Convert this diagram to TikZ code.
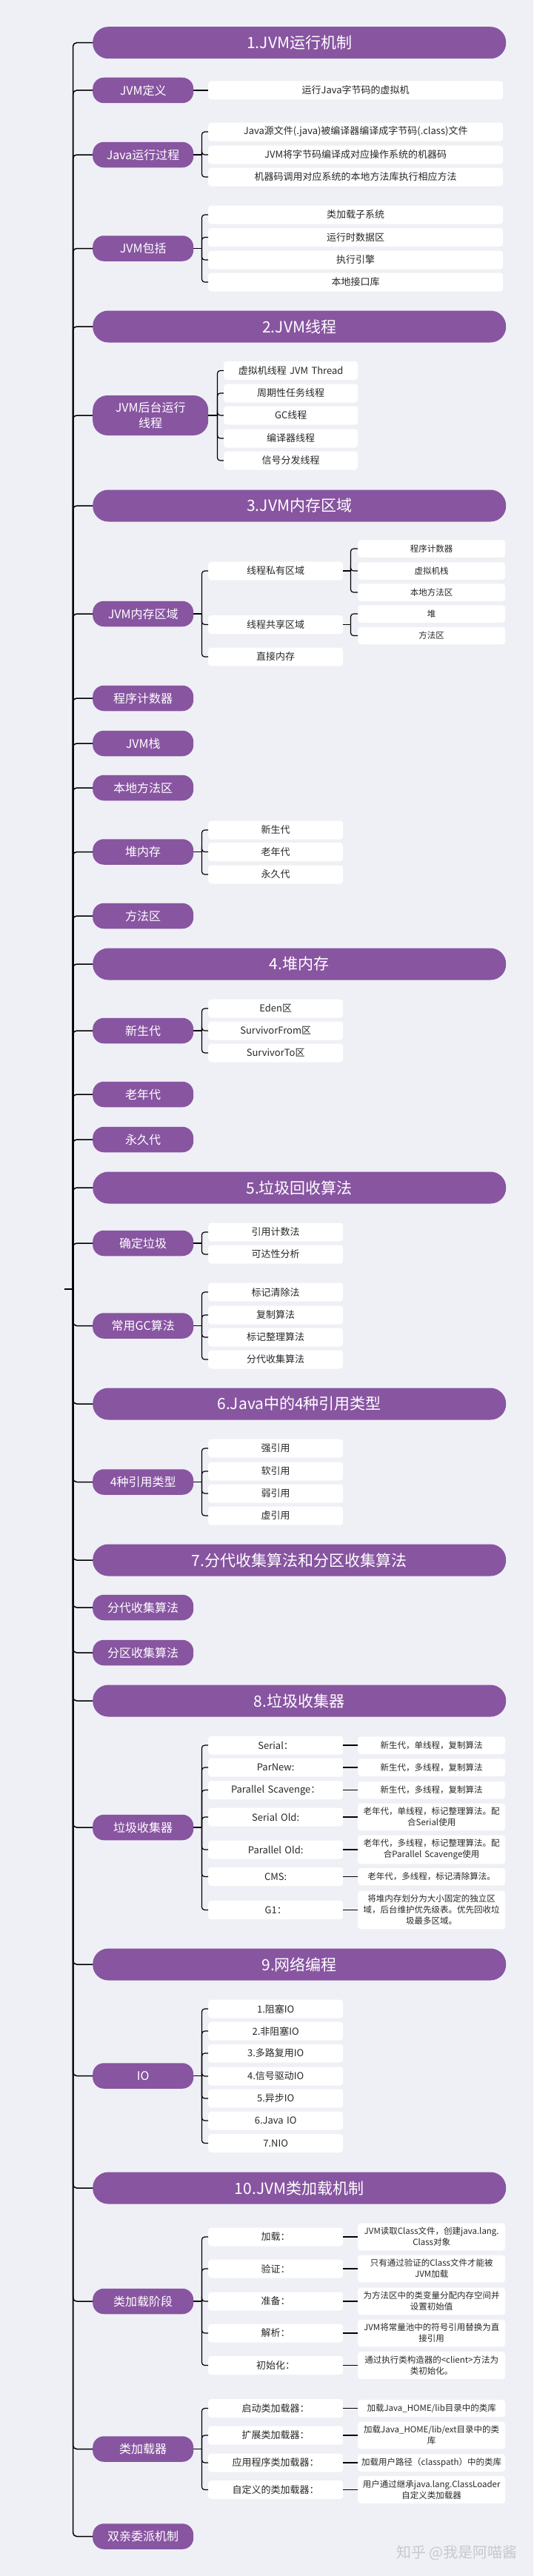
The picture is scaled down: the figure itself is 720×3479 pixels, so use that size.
\documentclass[tikz,border=0pt]{standalone}
\usepackage{fontspec}
\setmainfont{Noto Sans CJK SC}
\usetikzlibrary{positioning,calc}
\definecolor{canvas}{RGB}{238,240,245}
\definecolor{jvm}{RGB}{136,85,161}
\definecolor{ink}{RGB}{40,40,40}
\definecolor{mark}{RGB}{200,200,206}
\tikzset{
  chapter/.style={fill=jvm, text=white, rounded corners=21pt, anchor=west,
                  minimum width=558pt, minimum height=43pt, inner sep=0pt,
                  font=\fontsize{21}{25}\selectfont},
  topic/.style={fill=jvm, text=white, rounded corners=15pt, anchor=west, align=center,
                minimum width=136pt, minimum height=34.5pt, inner sep=0pt,
                font=\fontsize{16}{20}\selectfont},
  leaf/.style={fill=white, text=ink, rounded corners=4pt, anchor=west, align=center,
               text width=182pt, inner xsep=0pt, inner ysep=0pt, minimum height=25pt,
               font=\fontsize{13}{15}\selectfont},
  wideleaf/.style={leaf, text width=398pt},
  note/.style={fill=white, text=ink, rounded corners=4pt, anchor=west, align=center,
               text width=190pt, inner xsep=4.5pt, inner ysep=5.5pt, minimum height=23.5pt,
               font=\fontsize{11.5}{15}\selectfont},
  trunk/.style={line width=1.5pt, rounded corners=5pt},
  link/.style={line width=1.2pt, rounded corners=4pt},
}

\begin{document}
\begin{tikzpicture}[x=1pt, y=-1pt]
  \fill[canvas] (0,0) rectangle (720,3479);
  \useasboundingbox (0,0) rectangle (720,3479);

  %% spine
  \coordinate (root) at (98.5,1741);
  \coordinate (rootin) at (87,1741);
  \draw[trunk] (rootin) -- (root);

  %% chapters
  \foreach \n/\txt/\y in {c1/1.JVM运行机制/57.7, c2/2.JVM线程/441, c3/3.JVM内存区域/683,
      c4/4.堆内存/1302, c5/5.垃圾回收算法/1604, c6/6.Java中的4种引用类型/1896,
      c7/7.分代收集算法和分区收集算法/2107, c8/8.垃圾收集器/2297, c9/9.网络编程/2653,
      c10/10.JVM类加载机制/2955} {
    \node[chapter] (\n) at (125,\y) {\txt};
    \draw[trunk] (root) |- (\n.west);
  }

  %% topics
  \foreach \n/\txt/\y in {t1/JVM定义/122, t2/Java运行过程/209, t3/JVM包括/335.5,
      t5/JVM内存区域/829, t6/程序计数器/943, t7/JVM栈/1004, t8/本地方法区/1064,
      t9/堆内存/1150.5, t10/方法区/1237, t11/新生代/1392, t12/老年代/1478, t13/永久代/1539,
      t14/确定垃圾/1679, t15/常用GC算法/1790.5, t16/4种引用类型/2001.5,
      t17/分代收集算法/2171, t18/分区收集算法/2232, t19/垃圾收集器/2468, t20/IO/2803.5,
      t21/类加载阶段/3108, t22/类加载器/3307.5, t23/双亲委派机制/3425.5} {
    \node[topic] (\n) at (125,\y) {\txt};
    \draw[trunk] (root) |- (\n.west);
  }
  \node[topic, minimum width=156pt, minimum height=54pt, rounded corners=20pt,
        font=\fontsize{16}{21}\selectfont] (t4) at (125,561) {JVM后台运行\\线程};
  \draw[trunk] (root) |- (t4.west);

  %% 1. JVM运行机制
  \node[wideleaf] (t1c1) at (281,122) {运行Java字节码的虚拟机};
  \draw[link] (t1.east) -- (t1c1.west);

  \coordinate (t2b) at ($(t2.east)+(11,0)$);
  \draw[link] (t2.east) -- (t2b);
  \foreach \i/\txt/\y in {1/{Java源文件(.java)被编译器编译成字节码(.class)文件}/178,
      2/{JVM将字节码编译成对应操作系统的机器码}/209,
      3/{机器码调用对应系统的本地方法库执行相应方法}/239} {
    \node[wideleaf] (t2c\i) at (281,\y) {\txt};
    \draw[link] (t2b) |- (t2c\i.west);
  }

  \coordinate (t3b) at ($(t3.east)+(11,0)$);
  \draw[link] (t3.east) -- (t3b);
  \foreach \i/\txt/\y in {1/类加载子系统/290, 2/运行时数据区/320.5, 3/执行引擎/351, 4/本地接口库/381} {
    \node[wideleaf] (t3c\i) at (281,\y) {\txt};
    \draw[link] (t3b) |- (t3c\i.west);
  }

  %% 2. JVM线程
  \coordinate (t4b) at ($(t4.east)+(12,0)$);
  \draw[link] (t4.east) -- (t4b);
  \foreach \i/\txt/\y in {1/虚拟机线程 JVM Thread/500.5, 2/周期性任务线程/531, 3/GC线程/561,
      4/编译器线程/592, 5/信号分发线程/622} {
    \node[leaf, text width=181pt] (t4c\i) at (302,\y) {\txt};
    \draw[link] (t4b) |- (t4c\i.west);
  }

  %% 3. JVM内存区域
  \coordinate (t5b) at ($(t5.east)+(11,0)$);
  \draw[link] (t5.east) -- (t5b);
  \foreach \i/\txt/\y in {1/线程私有区域/771, 2/线程共享区域/843.5, 3/直接内存/887} {
    \node[leaf] (t5c\i) at (281,\y) {\txt};
    \draw[link] (t5b) |- (t5c\i.west);
  }
  \coordinate (t5c1b) at ($(t5c1.east)+(10,0)$);
  \draw[link] (t5c1.east) -- (t5c1b);
  \foreach \i/\txt/\y in {1/程序计数器/741, 2/虚拟机栈/771, 3/本地方法区/800} {
    \node[note] (t5p\i) at (483,\y) {\txt};
    \draw[link] (t5c1b) |- (t5p\i.west);
  }
  \coordinate (t5c2b) at ($(t5c2.east)+(10,0)$);
  \draw[link] (t5c2.east) -- (t5c2b);
  \foreach \i/\txt/\y in {1/堆/829, 2/方法区/858.5} {
    \node[note] (t5s\i) at (483,\y) {\txt};
    \draw[link] (t5c2b) |- (t5s\i.west);
  }

  \coordinate (t9b) at ($(t9.east)+(11,0)$);
  \draw[link] (t9.east) -- (t9b);
  \foreach \i/\txt/\y in {1/新生代/1121, 2/老年代/1150.5, 3/永久代/1181} {
    \node[leaf] (t9c\i) at (281,\y) {\txt};
    \draw[link] (t9b) |- (t9c\i.west);
  }

  %% 4. 堆内存
  \coordinate (t11b) at ($(t11.east)+(11,0)$);
  \draw[link] (t11.east) -- (t11b);
  \foreach \i/\txt/\y in {1/Eden区/1362, 2/SurvivorFrom区/1392, 3/SurvivorTo区/1422} {
    \node[leaf] (t11c\i) at (281,\y) {\txt};
    \draw[link] (t11b) |- (t11c\i.west);
  }

  %% 5. 垃圾回收算法
  \coordinate (t14b) at ($(t14.east)+(11,0)$);
  \draw[link] (t14.east) -- (t14b);
  \foreach \i/\txt/\y in {1/引用计数法/1664, 2/可达性分析/1694} {
    \node[leaf] (t14c\i) at (281,\y) {\txt};
    \draw[link] (t14b) |- (t14c\i.west);
  }
  \coordinate (t15b) at ($(t15.east)+(11,0)$);
  \draw[link] (t15.east) -- (t15b);
  \foreach \i/\txt/\y in {1/标记清除法/1745, 2/复制算法/1776, 3/标记整理算法/1806, 4/分代收集算法/1836} {
    \node[leaf] (t15c\i) at (281,\y) {\txt};
    \draw[link] (t15b) |- (t15c\i.west);
  }

  %% 6. 引用类型
  \coordinate (t16b) at ($(t16.east)+(11,0)$);
  \draw[link] (t16.east) -- (t16b);
  \foreach \i/\txt/\y in {1/强引用/1956, 2/软引用/1987, 3/弱引用/2017, 4/虚引用/2047} {
    \node[leaf] (t16c\i) at (281,\y) {\txt};
    \draw[link] (t16b) |- (t16c\i.west);
  }

  %% 8. 垃圾收集器
  \coordinate (t19b) at ($(t19.east)+(11,0)$);
  \draw[link] (t19.east) -- (t19b);
  \foreach \i/\k/\v/\y in {
      1/{Serial：}/{新生代，单线程，复制算法}/2357,
      2/{ParNew:}/{新生代，多线程，复制算法}/2387,
      3/{Parallel Scavenge：}/{新生代，多线程，复制算法}/2417.5,
      4/{Serial Old:}/{老年代，单线程，标记整理算法。配\\合Serial使用}/2454,
      5/{Parallel Old:}/{老年代，多线程，标记整理算法。配\\合Parallel Scavenge使用}/2498,
      6/{CMS:}/{老年代，多线程，标记清除算法。}/2534.5,
      7/{G1：}/{将堆内存划分为大小固定的独立区\\域，后台维护优先级表。优先回收垃\\圾最多区域。}/2579.5} {
    \node[leaf] (t19c\i) at (281,\y) {\k};
    \node[note] (t19n\i) at (483,\y) {\v};
    \draw[link] (t19b) |- (t19c\i.west);
    \draw[link] (t19c\i.east) -- (t19n\i.west);
  }

  %% 9. 网络编程
  \coordinate (t20b) at ($(t20.east)+(11,0)$);
  \draw[link] (t20.east) -- (t20b);
  \foreach \i/\txt/\y in {1/1.阻塞IO/2713, 2/2.非阻塞IO/2743, 3/3.多路复用IO/2773,
      4/4.信号驱动IO/2804, 5/5.异步IO/2834, 6/6.Java IO/2864, 7/7.NIO/2894.5} {
    \node[leaf] (t20c\i) at (281,\y) {\txt};
    \draw[link] (t20b) |- (t20c\i.west);
  }

  %% 10. 类加载机制
  \coordinate (t21b) at ($(t21.east)+(11,0)$);
  \draw[link] (t21.east) -- (t21b);
  \foreach \i/\k/\v/\y in {
      1/{加载：}/{JVM读取Class文件，创建java.lang.\\Class对象}/3021,
      2/{验证：}/{只有通过验证的Class文件才能被\\JVM加载}/3064,
      3/{准备：}/{为方法区中的类变量分配内存空间并\\设置初始值}/3108,
      4/{解析：}/{JVM将常量池中的符号引用替换为直\\接引用}/3151,
      5/{初始化：}/{通过执行类构造器的<client>方法为\\类初始化。}/3194.5} {
    \node[leaf] (t21c\i) at (281,\y) {\k};
    \node[note] (t21n\i) at (483,\y) {\v};
    \draw[link] (t21b) |- (t21c\i.west);
    \draw[link] (t21c\i.east) -- (t21n\i.west);
  }

  \coordinate (t22b) at ($(t22.east)+(11,0)$);
  \draw[link] (t22.east) -- (t22b);
  \foreach \i/\k/\v/\y in {
      1/{启动类加载器：}/{加载Java\_HOME/lib目录中的类库}/3252.5,
      2/{扩展类加载器：}/{加载Java\_HOME/lib/ext目录中的类\\库}/3289,
      3/{应用程序类加载器：}/{加载用户路径（classpath）中的类库}/3326,
      4/{自定义的类加载器：}/{用户通过继承java.lang.ClassLoader\\自定义类加载器}/3362.5} {
    \node[leaf] (t22c\i) at (281,\y) {\k};
    \node[note] (t22n\i) at (483,\y) {\v};
    \draw[link] (t22b) |- (t22c\i.west);
    \draw[link] (t22c\i.east) -- (t22n\i.west);
  }

  \node[font=\fontsize{20}{24}\selectfont, text=mark, anchor=east] (wm) at (702,3448) {知乎 @我是阿喵酱};
\end{tikzpicture}
\end{document}
